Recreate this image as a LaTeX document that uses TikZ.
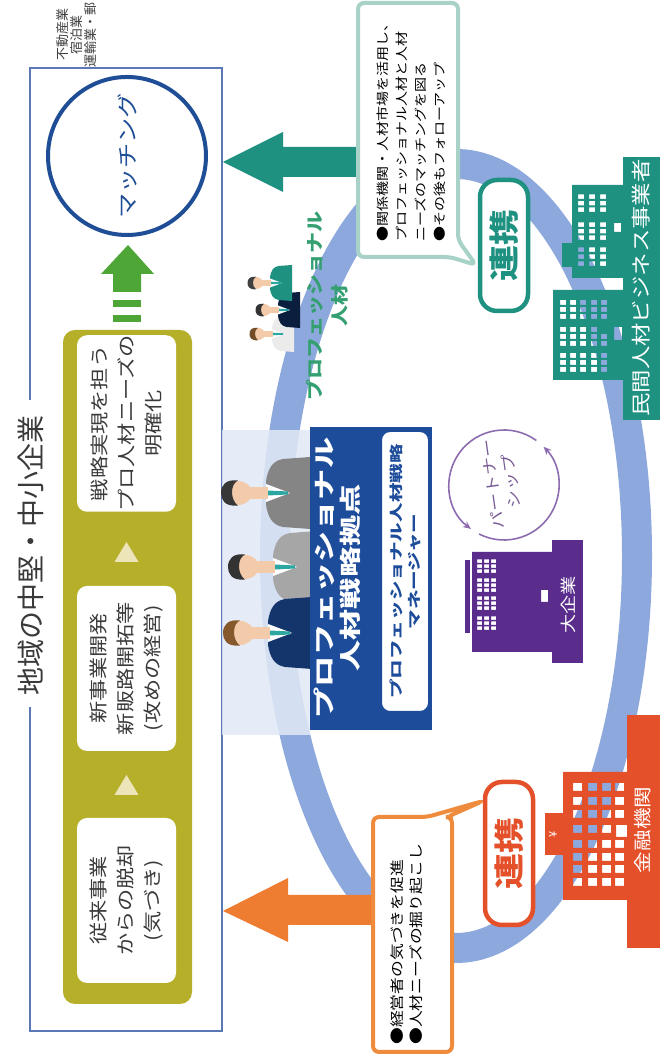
\documentclass[tikz,border=0pt]{standalone}
\usepackage{fontspec}
\usetikzlibrary{arrows.meta}
\setmainfont{Noto Sans CJK JP}
\newfontfamily\jp{Noto Sans CJK JP}
\newfontfamily\jpwide[FakeStretch=1.2]{Noto Sans CJK JP}
\newfontfamily\jpwider[FakeStretch=1.45]{Noto Sans CJK JP}
\newcommand{\setfs}[2]{\fontsize{#1}{#2}\selectfont}

\definecolor{frameline}{HTML}{5A78B5}
\definecolor{barolive}{HTML}{B5AF2A}
\definecolor{tripale}{HTML}{EEE4B9}
\definecolor{boxtext}{HTML}{3A3A3A}
\definecolor{arrowgreen}{HTML}{4DA636}
\definecolor{matchblue}{HTML}{1F4E96}
\definecolor{ringblue}{HTML}{8DA8DC}
\definecolor{hubblue}{HTML}{1D4C9B}
\definecolor{tealdark}{HTML}{1E9181}
\definecolor{tealpale}{HTML}{A8D1C8}
\definecolor{orangearrow}{HTML}{EE7D31}
\definecolor{orangeline}{HTML}{EE8B3D}
\definecolor{bankred}{HTML}{E4502A}
\definecolor{bigpurple}{HTML}{5A2D8C}
\definecolor{partnerline}{HTML}{8E6CB0}
\definecolor{protext}{HTML}{34A071}
\definecolor{skin}{HTML}{F3CBAA}
\definecolor{tiecol}{HTML}{2BA6A0}

\tikzset{
  stagebox/.style={fill=white, rounded corners=10pt, minimum width=165pt,
    minimum height=99pt, align=center, text=boxtext, inner sep=0pt,
    font={\jpwide\setfs{18.5}{27}}},
  linkbox/.style={draw=#1, text=#1, line width=4.5pt, fill=white,
    rounded corners=17pt, minimum height=48pt, inner sep=0pt,
    font={\jpwide\bfseries\setfs{30}{30}}},
  notebox/.style={line width=4pt, fill=white, rounded corners=6pt},
  notetext/.style={anchor=west, align=left, inner sep=0pt, text=black},
  bldlabel/.style={text=white, inner sep=0pt},
}

% head-and-shoulders figure: u, v, scale, suit colour, hair colour
\newcommand{\bust}[5]{%
  \begin{scope}[shift={(#1,#2)}, scale=#3]
    \fill[#4] (-36,72) -- (-34,45) .. controls (-32,34) and (-24,30) .. (-12,28)
      -- (12,28) .. controls (24,30) and (32,34) .. (34,45) -- (36,72) -- cycle;
    \fill[white] (-9,28) -- (9,28) -- (0,52) -- cycle;
    \fill[tiecol] (-2.5,30) -- (2.5,30) -- (1.5,50) -- (-1.5,50) -- cycle;
    \fill[skin] (-6,8) rectangle (6,30);
    \fill[skin] (0,0) ellipse [x radius=12, y radius=14];
    \fill[#5] (-12.5,0) .. controls (-14,-14) and (-6,-17) .. (0,-17)
      .. controls (8,-17) and (14,-12) .. (12.5,0)
      .. controls (9,-8) and (-7,-8) .. cycle;
  \end{scope}}

\begin{document}
\begin{tikzpicture}[x=1pt, y=-1pt]
\begin{scope}[rotate=90, transform shape]
  \fill[white] (0,0) rectangle (1056,669);
  \useasboundingbox (0,0) rectangle (1056,669);

  % neighbouring page text
  \node[font={\jp\setfs{13}{14}}, text=black!75, align=center, inner sep=0pt]
    (edge) at (1021,77) {不動産業\\宿泊業\\運輸業・郵};

  % outer ring
  \draw[ringblue, line width=30pt] (500,456) ellipse [x radius=392, y radius=181];

  % regional firms frame
  \draw[frameline, line width=1.5pt] (349,30) -- (25,30) -- (25,222)
    -- (988,222) -- (988,30) -- (656,30);
  \node[font={\jp\setfs{28}{28}}, text=boxtext, inner sep=0pt] (region) at (500,31)
    {地域の中堅・中小企業};

  \fill[barolive, rounded corners=12pt] (52,63) rectangle (726,192);
  \node[stagebox] (stageA) at (155.5,126.5) {従来事業\\からの脱却\\(気づき)};
  \node[stagebox] (stageB) at (387.5,126.5) {新事業開発\\新販路開拓等\\(攻めの経営)};
  \node[stagebox] (stageC) at (632.5,126.5) {戦略実現を担う\\プロ人材ニーズの\\明確化};
  \fill[tripale] (261,114.5) -- (281,126.5) -- (261,138.5) -- cycle;
  \fill[tripale] (494,114.5) -- (514,126.5) -- (494,138.5) -- cycle;

  % step up to matching
  \fill[arrowgreen] (811,128) -- (782,154) -- (782,141) -- (764,141)
    -- (764,113) -- (782,113) -- (782,101) -- cycle;
  \fill[arrowgreen] (749,113) rectangle (756,141);
  \fill[arrowgreen] (734,113) rectangle (741,141);

  \node[draw=matchblue, line width=4pt, circle, minimum size=158pt, inner sep=0pt,
    text=matchblue, font={\jpwide\setfs{21}{21}}] (match) at (900,127) {マッチング};

  % strategy hub with managers
  \fill[ringblue!25, fill opacity=0.85] (321,222) rectangle (626,310);
  \bust{563}{238}{1}{black!48}{black!78}
  \bust{489}{245}{1}{black!35}{black!80}
  \bust{423}{240}{1}{hubblue!70!black}{brown!70!black}

  \fill[hubblue] (326,310) rectangle (629,432);
  \node[text=white, align=center, inner sep=0pt,
    font={\jpwider\bfseries\setfs{21.5}{26}}] (hub) at (478,337)
    {プロフェッショナル\\人材戦略拠点};
  \node[fill=white, draw=hubblue, line width=2pt, rounded corners=9pt,
    minimum width=281pt, minimum height=48pt, inner sep=0pt, align=center,
    text=hubblue, font={\jpwider\bfseries\setfs{13.5}{18}}] (manager) at (484.5,405)
    {プロフェッショナル人材戦略\\マネージャー};

  % professionals
  \bust{722}{258}{0.5}{black!8}{brown!60!black}
  \bust{746}{264}{0.5}{hubblue!40!black}{black!80}
  \bust{773}{256}{0.5}{tealdark}{black!75}
  \node[text=protext, align=center, inner sep=0pt,
    font={\jpwide\bfseries\setfs{17.5}{25}}] (pros) at (750,327)
    {プロフェッショナル\\人材};

  % arrows back to the firms
  \fill[tealdark] (894,223) -- (924,283) -- (909,283) -- (909,359)
    -- (879,359) -- (879,283) -- (864,283) -- cycle;
  \fill[orangearrow] (145,223) -- (178,288) -- (161,288) -- (161,372)
    -- (131,372) -- (131,288) -- (114,288) -- cycle;

  % notes
  \draw[notebox, draw=tealpale] (799,358) -- (1053,358) -- (1053,458)
    -- (816,458) -- (791,476) -- (799,450) -- cycle;
  \node[notetext, font={\jpwide\setfs{12.5}{19}}] (tealnote) at (814,411)
    {●関係機関・人材市場を活用し、\\プロフェッショナル人材と人材\\ニーズのマッチングを図る\\●その後もフォローアップ};
  \draw[notebox, draw=orangeline] (4,373) -- (239,373) -- (239,427)
    -- (255,483) -- (239,447) -- (239,452) -- (4,452) -- cycle;
  \node[notetext, font={\jpwide\setfs{14}{19}}] (orangenote) at (11,407)
    {●経営者の気づきを促進\\●人材ニーズの掘り起こし};

  \node[linkbox=bankred, minimum width=143pt] (linkbank) at (202.5,509) {連携};
  \node[linkbox=tealdark, minimum width=131pt] (linkagency) at (810.5,504) {連携};

  % private staffing agencies
  \fill[tealdark] (636,623) rectangle (899,660);
  \fill[tealdark] (789,562) rectangle (813,573);
  \fill[tealdark, even odd rule] (778,572) rectangle (871,623)
    foreach \wu in {790,797,804,816,822.5,829,844,850.5,857}
      { foreach \wv in {578,589,600} { (\wu,\wv) rectangle ++(4.5,6) } }
    (824,614) rectangle (833,621);
  \fill[tealdark, even odd rule] (676,553) rectangle (766,623)
    foreach \wu in {684,691,698,710,717,737,744,751}
      { foreach \wv in {560,570,580,591,601} { (\wu,\wv) rectangle ++(5,6) } }
    foreach \wv in {560,570,580,591} { (724,\wv) rectangle ++(5,6) }
    (716,614) rectangle (729,622);
  \node[bldlabel, font={\jpwide\setfs{19.5}{19.5}}] (agency) at (768,641)
    {民間人材ビジネス事業者};

  % financial institution
  \fill[bankred] (108,627) rectangle (341,660);
  \fill[bankred] (201,545) rectangle (243,563);
  \node[bldlabel, font={\jp\setfs{11}{11}}] (yen) at (222,553) {¥};
  \fill[bankred, even odd rule] (156,563) rectangle (284,627)
    foreach \wu in {170,183,195,208,223,238,251,265}
      { foreach \wv in {573,588,602} { (\wu,\wv) rectangle ++(8,9) } }
    foreach \wu in {170,183,195,208,238,251,265} { (\wu,615) rectangle ++(8,9) }
    (219,616) rectangle (231,627);
  \node[bldlabel, font={\jpwide\setfs{18}{18}}] (bank) at (226,643) {金融機関};

  % large company
  \fill[bigpurple] (423,465) rectangle (496,470);
  \fill[bigpurple] (393,552) rectangle (516,583);
  \fill[bigpurple, even odd rule] (404,472) rectangle (504,552.5)
    foreach \wu in {426,431,436,446,451,456,464,469,474,483,488,493}
      { foreach \wv in {477,484,491} { (\wu,\wv) rectangle ++(3.5,5) } }
    (454,541) rectangle (466,548);
  \node[bldlabel, font={\jpwide\setfs{16}{16}}] (bigco) at (451,568) {大企業};

  % partnership cycle
  \draw[partnerline, line width=1.6pt, -{Stealth[length=8pt, width=7pt]}]
    (571,504) ++(207:55) arc[start angle=207, end angle=46, radius=55];
  \draw[partnerline, line width=1.6pt, -{Stealth[length=8pt, width=7pt]}]
    (571,504) ++(36:55) arc[start angle=36, end angle=-143, radius=55];
  \node[rotate=8, text=partnerline!85!black, align=center, inner sep=0pt,
    font={\jpwide\setfs{15}{19}}] (partner) at (573,502) {パートナー\\シップ};
\end{scope}
\end{tikzpicture}
\end{document}
